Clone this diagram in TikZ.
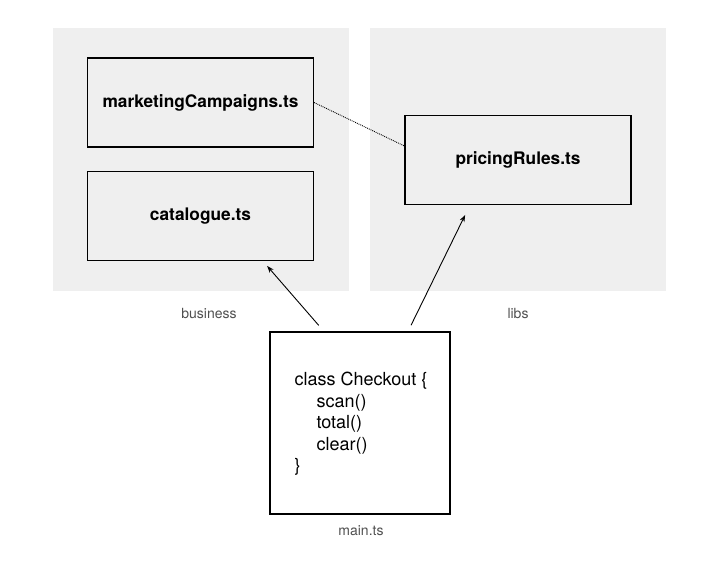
\documentclass[tikz,border=0pt]{standalone}
\usepackage{fontspec}
\setmainfont{TeX Gyre Heros}
\usetikzlibrary{arrows.meta,positioning}

\definecolor{panelgray}{RGB}{239,239,239}
\definecolor{labelgray}{RGB}{80,80,80}

\begin{document}
\begin{tikzpicture}[x=1pt,y=-1pt,>={Stealth[length=7pt,width=5pt]}]
       \tikzstyle{group}=[draw=none,fill=panelgray,minimum width=296pt,minimum height=263pt,inner sep=0pt]
       \tikzstyle{file}=[draw,line width=1.1pt,fill=panelgray,minimum width=226pt,minimum height=89pt,font=\fontsize{17.3}{20}\selectfont\bfseries]
       \tikzstyle{grouplabel}=[text=labelgray,font=\fontsize{14}{16}\selectfont]

       \useasboundingbox (0,0) rectangle (715,568);

       \node[group] (business) at (200.5,159.5) {};
       \node[group] (libs)     at (518,159.5)   {};

       \node[file] (campaigns) at (200.5,102.5) {marketingCampaigns.ts};
       \node[file] (catalogue) [below=23pt of campaigns] {catalogue.ts};
       \node[file] (pricing)   at (518,160)     {pricingRules.ts};

       \node[draw,line width=1.1pt,fill=white,minimum width=180pt,minimum height=182pt] (main) at (360,423) {};
       \node[anchor=west,align=left,font=\fontsize{18}{21.5}\selectfont] (code) at (291,424)
             {class Checkout \{\\
              \hspace{22pt}scan()\\
              \hspace{22pt}total()\\
              \hspace{22pt}clear()\\
              \}};

       \node[grouplabel] (businesslabel) at (209,313) {business};
       \node[grouplabel] (libslabel)     at (518,313) {libs};
       \node[grouplabel] (mainlabel)     at (361,531) {main.ts};

       \path[->,line width=0.9pt]
       ([xshift=-36pt]main.north) edge [shorten <=8pt,shorten >=7pt] ([xshift=62pt]catalogue.south)
       ([xshift=48pt]main.north)  edge [shorten <=7pt,shorten >=11pt] ([xshift=-48pt]pricing.south);

       \draw[densely dotted,line width=0.9pt] (campaigns.east) -- ([yshift=14pt]pricing.west);
     \end{tikzpicture}
\end{document}
